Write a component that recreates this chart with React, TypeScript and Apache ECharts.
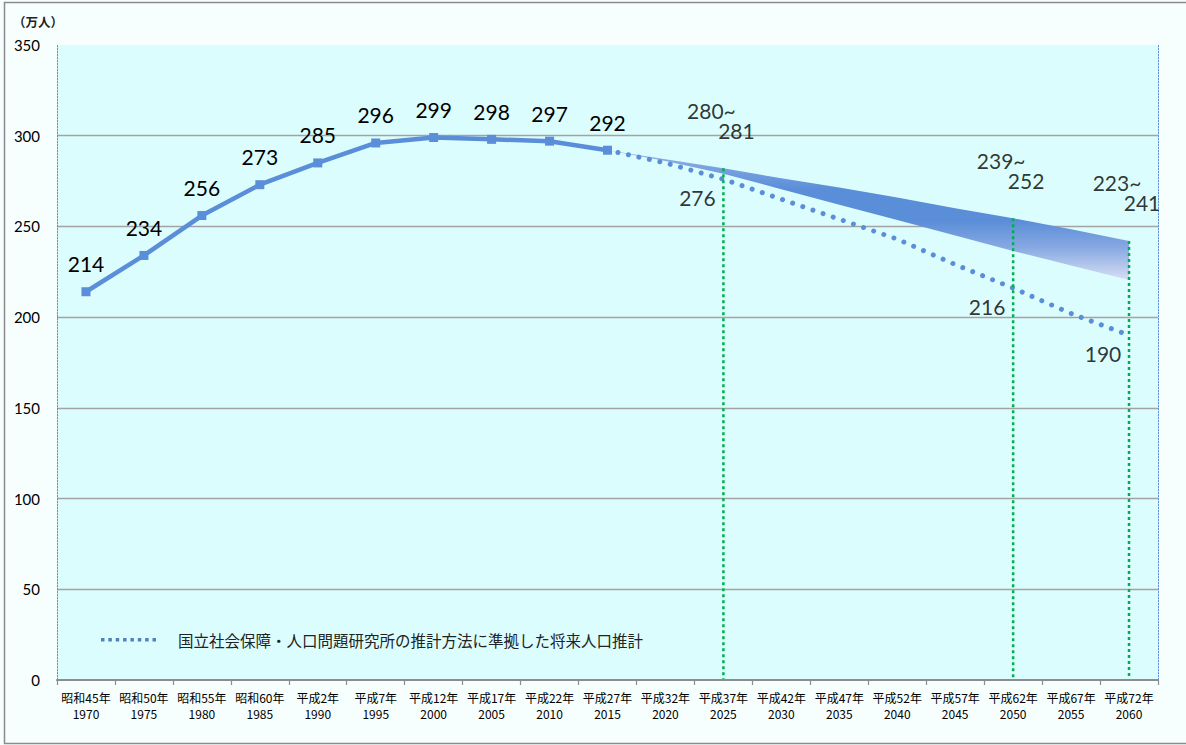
import React, { useEffect, useRef } from "react";
import * as echarts from "echarts";

const years = [1970, 1975, 1980, 1985, 1990, 1995, 2000, 2005, 2010, 2015, 2020, 2025, 2030, 2035, 2040, 2045, 2050, 2055, 2060];
const eraLabels = [
  "昭和45年", "昭和50年", "昭和55年", "昭和60年", "平成2年", "平成7年", "平成12年", "平成17年", "平成22年", "平成27年",
  "平成32年", "平成37年", "平成42年", "平成47年", "平成52年", "平成57年", "平成62年", "平成67年", "平成72年",
];
// actual population 1970-2015
const actual = [214, 234, 256, 273, 285, 296, 299, 298, 297, 292];
// projection (dotted) 2015-2060
const projectionStart = 2015;
const projection = [292, 285, 276, 265, 254, 243, 229, 216, 202, 190];
const projLabelYears = [2025, 2050, 2060];
// band (range of own projection), 2015-2060
const bandStart = 2015;
const bandUpper = [292, 287, 282, 276.5, 271.5, 266, 260, 254.5, 248.5, 242];
const bandLower = [292, 286, 279, 270.5, 262, 253.5, 245, 236.5, 228.5, 220.5];
// range labels
const rangeLabelYears = [2025, 2050, 2060];
const rangeLabelLow = [280, 239, 223];
const rangeLabelHigh = [281, 252, 241];
const guideYears = [2025, 2050, 2060];
const yTicks = { min: 0, max: 350, interval: 50 };
const legendName = "国立社会保障・人口問題研究所の推計方法に準拠した将来人口推計";
const unitLabel = "（万人）";

const NUM_FONT = "Lato, 'Noto Sans', sans-serif";
const JP_FONT = "'Noto Sans CJK JP', 'Noto Sans', sans-serif";
const BLUE = "#5a8ed8";

function dashIconPath(n: number, size: number, period: number) {
  let d = "path://";
  for (let i = 0; i < n; i++) d += `M${i * period},0h${size}v${size}h${-size}Z`;
  return d;
}

export default function App() {
  const ref = useRef<HTMLDivElement>(null);
  useEffect(() => {
    document.body.style.margin = "0";
    if (!ref.current) return;
    const chart = echarts.init(ref.current, undefined, { renderer: "svg" });

    const catLabels = years.map((y, i) => eraLabels[i] + "\n" + y);
    const actualData = years.map((_, i) => (i < actual.length ? actual[i] : null));
    const pStart = years.indexOf(projectionStart);
    const projData = years.map((_, i) => (i >= pStart && i - pStart < projection.length ? projection[i - pStart] : null));
    const idx = (y: number) => years.indexOf(y);
    const bStart = years.indexOf(bandStart);
    const upperAt = (y: number) => bandUpper[idx(y) - bStart];

    const option: any = {
      animation: false,
      backgroundColor: "#f7fefe",
      grid: {
        left: 57,
        right: 28,
        top: 45,
        bottom: 65,
        containLabel: false,
        outerBoundsMode: "none",
        show: true,
        backgroundColor: "#dcfdfd",
        borderWidth: 0,
      },
      legend: {
        show: true,
        data: [{ name: legendName, icon: dashIconPath(8, 3.5, 7.4) }],
        left: 96,
        top: 627,
        itemWidth: 55,
        itemHeight: 3.5,
        symbolKeepAspect: false,
        selectedMode: false,
        itemStyle: { color: "#4f81bd" },
        textStyle: { fontFamily: JP_FONT, fontSize: 15.5, color: "#222", padding: [0, 0, 0, 17] },
      },
      graphic: [
        {
          type: "rect",
          silent: true,
          shape: { x: 4.5, y: 2.5, width: 1200, height: 741 },
          style: { fill: "none", stroke: "#8a8a8a", lineWidth: 1.5 },
          z: 100,
        },
        {
          type: "text",
          x: 13,
          y: 21,
          silent: true,
          style: { text: unitLabel, font: `bold 12.5px ${JP_FONT}`, fill: "#222", verticalAlign: "middle" },
        },
      ],
      xAxis: [
        {
          type: "category",
          data: catLabels,
          boundaryGap: true,
          axisLine: { show: true, lineStyle: { color: "#8c8c8c", width: 2 } },
          axisTick: { show: true, alignWithLabel: false, length: 5, lineStyle: { color: "#8c8c8c", width: 1.2 } },
          axisLabel: { interval: 0, fontFamily: JP_FONT, fontSize: 12, lineHeight: 16, color: "#000", margin: 9 },
          splitLine: { show: false },
          z: 10,
        },
        {
          type: "category",
          position: "top",
          data: catLabels,
          boundaryGap: true,
          axisLine: { show: true, lineStyle: { color: "#5b8fd9", width: 1, type: [1.5, 1.5] } },
          axisTick: { show: false },
          axisLabel: { show: false },
          splitLine: { show: false },
        },
      ],
      yAxis: [
        {
          type: "value",
          min: yTicks.min,
          max: yTicks.max,
          interval: yTicks.interval,
          axisLine: { show: true, lineStyle: { color: "#5b8fd9", width: 1, type: [1.5, 1.5] } },
          axisTick: { show: false },
          axisLabel: { fontFamily: NUM_FONT, fontSize: 15, color: "#000", margin: 17 },
          splitLine: { show: true, showMaxLine: false, showMinLine: false, lineStyle: { color: "#a3a3a3", width: 1.3 } },
        },
        {
          type: "value",
          position: "right",
          min: yTicks.min,
          max: yTicks.max,
          interval: yTicks.interval,
          axisLine: { show: true, lineStyle: { color: "#5b8fd9", width: 1, type: [1.5, 1.5] } },
          axisTick: { show: false },
          axisLabel: { show: false },
          splitLine: { show: false },
        },
      ],
      series: [
        {
          name: "band",
          type: "custom",
          silent: true,
          z: 2,
          data: [[bStart, bandLower[0]]],
          renderItem: (params: any, api: any) => {
            const top = bandUpper.map((v, i) => api.coord([bStart + i, v]));
            const bottom = bandLower.map((v, i) => api.coord([bStart + i, v])).reverse();
            return {
              type: "polygon",
              shape: { points: top.concat(bottom) },
              style: {
                fill: new echarts.graphic.LinearGradient(0, 0, 0, 1, [
                  { offset: 0, color: "#93b3e7" },
                  { offset: 0.3, color: "#5b8ed8" },
                  { offset: 0.55, color: "#5b8ed8" },
                  { offset: 0.75, color: "#87a9e2" },
                  { offset: 1, color: "#d8def2" },
                ]),
                stroke: "none",
              },
            };
          },
        },
        {
          name: "actual",
          type: "line",
          data: actualData,
          z: 3,
          symbol: "rect",
          symbolSize: 9,
          showSymbol: true,
          lineStyle: { color: BLUE, width: 4.5 },
          itemStyle: { color: BLUE },
          label: {
            show: true,
            position: "top",
            distance: 13,
            fontFamily: NUM_FONT,
            fontSize: 21,
            color: "#000",
          },
        },
        {
          name: legendName,
          type: "line",
          data: projData,
          z: 4,
          symbol: "none",
          showSymbol: false,
          lineStyle: { color: BLUE, width: 5, type: [0.01, 10.7], cap: "round" },
          itemStyle: { color: BLUE },
        },
        {
          name: "guides",
          type: "custom",
          silent: true,
          z: 5,
          data: guideYears.map((y) => [idx(y), upperAt(y)]),
          renderItem: (params: any, api: any) => {
            const p1 = api.coord([api.value(0), api.value(1)]);
            const p0 = api.coord([api.value(0), 0]);
            return {
              type: "line",
              shape: { x1: p1[0], y1: p1[1], x2: p0[0], y2: p0[1] },
              style: { stroke: "#00b050", lineWidth: 2.5, lineDash: [3, 3] },
            };
          },
        },
        {
          name: "projLabels",
          type: "scatter",
          silent: true,
          z: 6,
          symbolSize: 0,
          data: projLabelYears.map((y) => [idx(y), projData[idx(y)]]),
          label: {
            show: true,
            position: "inside",
            offset: [-26, 18],
            formatter: (p: any) => String(p.value[1]),
            fontFamily: NUM_FONT,
            fontSize: 21,
            color: "#000",
          },
        },
        {
          name: "rangeLabels",
          type: "scatter",
          silent: true,
          z: 6,
          symbolSize: 0,
          data: rangeLabelYears.map((y, i) => [idx(y), upperAt(y), rangeLabelLow[i], rangeLabelHigh[i]]),
          label: {
            show: true,
            position: "top",
            distance: 28,
            formatter: (p: any) => `{a|${p.value[2]}~}\n{b|${p.value[3]}}`,
            rich: {
              a: { fontFamily: NUM_FONT, fontSize: 21, color: "#000", lineHeight: 20, padding: [0, 24, 0, 0] },
              b: { fontFamily: NUM_FONT, fontSize: 21, color: "#000", lineHeight: 20, padding: [0, 0, 0, 26] },
            },
          },
        },
      ],
    };
    chart.setOption(option);
    return () => chart.dispose();
  }, []);
  return <div ref={ref} style={{ width: 1186, height: 745 }} />;
}
